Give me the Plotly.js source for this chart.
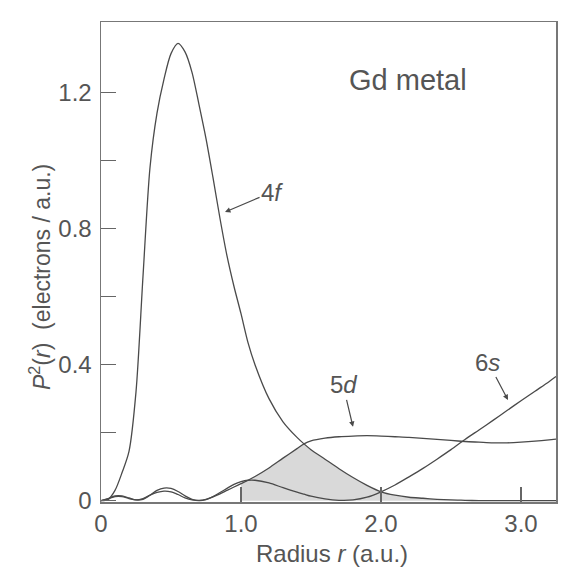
<!DOCTYPE html>
<html>
<head>
<meta charset="utf-8">
<script src="https://cdn.plot.ly/plotly-3.0.1.min.js"></script>
<style>html,body{margin:0;padding:0;background:#fff;}#chart{width:579px;height:580px;}</style>
</head>
<body>
<div id="chart"></div>
<script>
// Radius r (a.u.)
const radius = [0,0.05,0.1,0.15,0.2,0.25,0.3,0.35,0.4,0.45,0.5,0.55,0.6,0.65,0.7,0.75,0.8,0.85,0.9,0.95,1.0,1.05,1.1,1.2,1.3,1.4,1.45,1.5,1.6,1.7,1.8,1.9,2.0,2.1,2.2,2.3,2.4,2.5,2.6,2.7,2.8,2.9,3.0,3.1,3.2,3.25];
// P^2(r) electrons / a.u.
const p4f = [0,0.003,0.03,0.082,0.145,0.32,0.66,0.98,1.14,1.24,1.315,1.345,1.32,1.26,1.165,1.065,0.95,0.83,0.72,0.63,0.55,0.465,0.400,0.300,0.232,0.186,0.167,0.150,0.122,0.094,0.068,0.045,0.026,0.016,0.010,0.007,0.004,0.002,0.001,0,0,0,0,0,0,0];
const p5d = [0,0.005,0.012,0.012,0.006,0.002,0.006,0.016,0.024,0.028,0.026,0.018,0.008,0.002,0.001,0.004,0.011,0.020,0.030,0.040,0.050,0.060,0.071,0.096,0.125,0.153,0.167,0.176,0.184,0.188,0.190,0.191,0.190,0.188,0.186,0.183,0.180,0.177,0.174,0.172,0.170,0.170,0.172,0.175,0.179,0.181];
const p6s = [0,0.006,0.014,0.014,0.008,0.002,0.004,0.016,0.030,0.037,0.036,0.027,0.014,0.004,0.000,0.003,0.012,0.024,0.036,0.048,0.056,0.060,0.060,0.052,0.038,0.025,0.019,0.013,0.005,0.001,0.002,0.010,0.026,0.046,0.070,0.095,0.122,0.150,0.180,0.208,0.236,0.265,0.294,0.322,0.350,0.365];
const shadeStart = 1.0, shadeEnd = 2.6;
const xTickVals = [0,1,2,3];
const xTickText = ['0','1.0','2.0','3.0'];
const yTickVals = [0,0.4,0.8,1.2];
const yTickText = ['0','0.4','0.8','1.2'];
const yMinorVals = [0.2,0.6,1.0];

const lineCol = '#4a4a4a';
const txtCol = '#555';
const font = 'Liberation Sans, Arial, sans-serif';

const shX = [], shY = [];
radius.forEach((r,i)=>{ if(r>=shadeStart && r<=shadeEnd){ shX.push(r); shY.push(Math.min(p4f[i],p5d[i])); }});

const lineStyle = {color:lineCol, width:1.3, shape:'spline', smoothing:0.8};
const traces = [
  {x:shX, y:shY, mode:'lines', fill:'tozeroy', fillcolor:'#d9d9d9', line:{width:0, shape:'spline', smoothing:0.8}, hoverinfo:'skip', showlegend:false},
  {x:radius, y:p4f, mode:'lines', line:lineStyle, name:'4f', showlegend:false},
  {x:radius, y:p5d, mode:'lines', line:lineStyle, name:'5d', showlegend:false},
  {x:radius, y:p6s, mode:'lines', line:lineStyle, name:'6s', showlegend:false}
];

const arrowCommon = {showarrow:true, arrowhead:2, arrowsize:0.9, arrowwidth:1.2, arrowcolor:lineCol, font:{family:font, size:24, color:txtCol}, xref:'x', yref:'y'};
const layout = {
  width:579, height:580,
  margin:{l:101, r:23, t:22, b:78},
  paper_bgcolor:'#fff', plot_bgcolor:'#fff',
  xaxis:{range:[0,3.25], tickmode:'array', tickvals:xTickVals, ticktext:xTickText, ticks:'inside', ticklen:15, tickwidth:1.3, tickcolor:'#666',
    showline:true, linecolor:'#777', linewidth:1.5, mirror:true, showgrid:false, zeroline:false,
    tickfont:{family:font, size:24, color:txtCol}},
  yaxis:{range:[-0.004,1.408], tickmode:'array', tickvals:yTickVals, ticktext:yTickText, ticks:'inside', ticklen:15, tickwidth:1.3, tickcolor:'#666',
    minor:{tickmode:'array', tickvals:yMinorVals, ticks:'inside', ticklen:15, tickwidth:1.3, tickcolor:'#666', showgrid:false},
    showline:true, linecolor:'#777', linewidth:1.5, mirror:true, showgrid:false, zeroline:false, ticklabelstandoff:3,
    tickfont:{family:font, size:24, color:txtCol}},
  annotations:[
    Object.assign({}, arrowCommon, {x:0.886, y:0.849, ax:47, ay:-20, text:'4<i>f</i>'}),
    Object.assign({}, arrowCommon, {x:1.80, y:0.217, ax:-10, ay:-42, text:'5<i>d</i>'}),
    Object.assign({}, arrowCommon, {x:2.907, y:0.296, ax:-20, ay:-38, text:'6<i>s</i>'}),
    {x:0.675, y:1.237, xref:'paper', yref:'y', xanchor:'center', yanchor:'middle', text:'Gd metal', showarrow:false, font:{family:font, size:29, color:txtCol}},
    {x:-0.134, y:0.658, xref:'paper', yref:'y', xanchor:'center', yanchor:'middle', text:'<i>P</i><sup>2</sup>(<i>r</i>)  (electrons / a.u.)', textangle:-90, showarrow:false, font:{family:font, size:23, color:txtCol}},
    {x:1.65, y:-0.108, xref:'x', yref:'paper', xanchor:'center', yanchor:'middle', text:'Radius <i>r</i> (a.u.)', showarrow:false, font:{family:font, size:24, color:txtCol}}
  ]
};
Plotly.newPlot('chart', traces, layout, {displayModeBar:false, staticPlot:true});
</script>
</body>
</html>
